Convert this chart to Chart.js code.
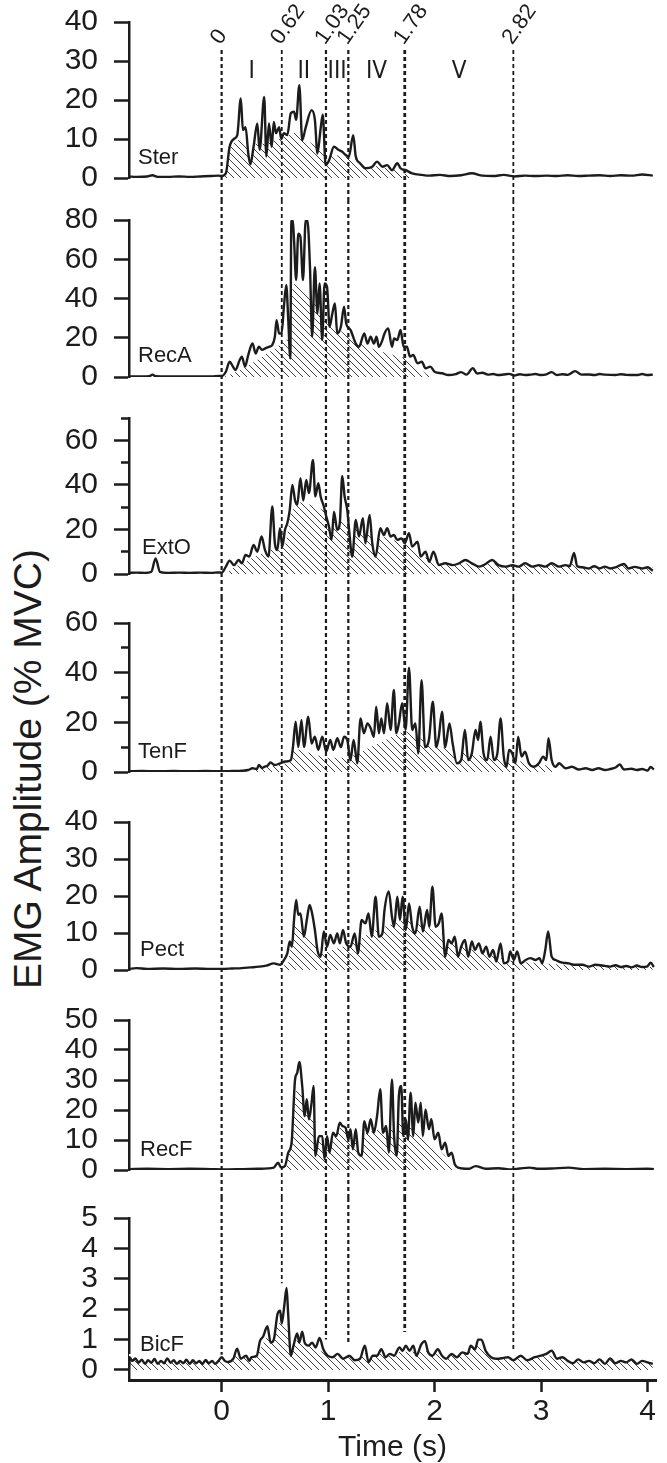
<!DOCTYPE html>
<html><head><meta charset="utf-8">
<script src="https://cdn.jsdelivr.net/npm/chart.js@4.4.0/dist/chart.umd.min.js"></script>
<style>
html,body{margin:0;padding:0;background:#fff;}
#wrap{position:relative;width:667px;height:1463px;overflow:hidden;background:#fff;}
canvas{position:absolute;left:0;}
#ytitle{position:absolute;left:28px;top:769px;transform:translate(-50%,-50%) rotate(-90deg);font:39px "Liberation Sans",Arial,Helvetica,sans-serif;color:#1c1c1c;white-space:nowrap;}
</style></head><body>
<div id="wrap"><div id="ytitle">EMG Amplitude (% MVC)</div></div>
<script>
// ---------------- DATA ----------------
const muscles = ['Ster','RecA','ExtO','TenF','Pect','RecF','BicF'];
const phaseLabels = ['0','0.62','1.03','1.25','1.78','2.82'];
const phasePos = [0, 0.565, 0.98, 1.19, 1.72, 2.74];
const phaseNames = ['I','II','III','IV','V'];
const bicfLineEnd = [0.5, 2.85, 1.0, 0.9, 1.25, 0.6];
const xTicks = [0,1,2,3,4];
const X_MIN = -0.87, X_MAX = 4.08;

const yMax = [40, 80, 70, 60, 40, 50, 5];
const yMin = [0, 0, 0, 0, 0, 0, -0.33];
const yTicks = [
  [0,10,20,30,40],[0,20,40,60,80],[0,10,20,30,40,50,60,70],[0,10,20,30,40,50,60],
  [0,10,20,30,40],[0,10,20,30,40,50],[0,1,2,3,4,5]];
const yLabeled = [
  [0,10,20,30,40],[0,20,40,60,80],[0,20,40,60],[0,20,40,60],
  [0,10,20,30,40],[0,10,20,30,40,50],[0,1,2,3,4,5]];

const sterData = [[-0.87,0.4],[-0.8,0.3],[-0.7,0.4],[-0.65,0.7],[-0.6,0.3],[-0.5,0.3],[-0.4,0.4],[-0.3,0.3],[-0.2,0.4],[-0.1,0.5],[-0.03,0.6],
[0,0.5],[0.04,1.2],[0.075,8],[0.115,10],[0.147,11],[0.18,20.4],[0.2,12.3],[0.225,13],[0.25,6.3],[0.27,3.5],[0.3,8],[0.335,14],[0.357,7.2],[0.4,20.8],[0.42,5.5],[0.445,14],[0.47,8],[0.49,14.4],[0.51,11.5],[0.54,13],[0.56,10],[0.585,11.5],[0.617,11],[0.65,16.6],[0.68,17],[0.70,14.9],[0.73,23.8],[0.757,9.7],[0.79,13],[0.845,17.4],[0.876,14.9],[0.9,6.3],[0.93,12.7],[0.95,16.2],[0.977,3.3],[1.01,4.6],[1.055,8],[1.1,7.2],[1.13,6.8],[1.165,5.9],[1.195,5.5],[1.236,11],[1.26,5.5],[1.3,3.8],[1.35,2.5],[1.415,2.9],[1.46,4.2],[1.51,2.9],[1.555,3.3],[1.6,2],[1.65,3.8],[1.68,2.5],[1.73,2],[1.79,1.2],[1.88,0.8],[1.95,0.6],[2.05,0.8],[2.15,0.5],[2.25,0.7],[2.35,1.2],[2.45,0.6],[2.55,0.5],[2.65,0.8],[2.75,0.4],[2.85,0.6],[2.95,0.5],[3.05,0.6],[3.15,0.5],[3.25,0.7],[3.35,0.5],[3.45,0.6],[3.55,0.7],[3.65,0.5],[3.75,0.7],[3.85,0.6],[3.95,0.9],[4.05,0.6]];
const sterEnv = [[0.02,0],[0.07,8],[0.15,10],[0.25,9],[0.4,9],[0.56,10.5],[0.7,12],[0.8,10],[0.97,6.5],[1.2,5.5],[1.4,3.5],[1.6,2.5],[1.75,1],[1.8,0]];

const recaData = [[-0.87,0.3],[-0.75,0.3],[-0.68,0.4],[-0.65,1.2],[-0.62,0.4],[-0.5,0.3],[-0.3,0.3],[-0.1,0.3],[-0.02,0.5],
[0,0.5],[0.04,2.7],[0.075,7.8],[0.106,5.3],[0.13,3.6],[0.17,8.7],[0.19,10.4],[0.22,5.3],[0.25,11.2],[0.29,17.1],[0.32,12],[0.35,15.4],[0.38,13.8],[0.41,14.6],[0.445,15.4],[0.475,16.3],[0.5,20.5],[0.516,29],[0.54,22.2],[0.563,22.2],[0.585,35.8],[0.607,46.9],[0.626,29],[0.645,9.5],[0.655,80],[0.668,80],[0.68,70],[0.70,49.4],[0.72,73],[0.74,71.5],[0.764,49.4],[0.79,80],[0.805,80],[0.83,56],[0.85,20.5],[0.876,56],[0.9,32.4],[0.92,47.7],[0.945,18.8],[0.967,47.7],[0.99,46],[1.014,25.6],[1.04,32.4],[1.064,37.5],[1.086,22.2],[1.12,25.6],[1.15,35.8],[1.17,27.3],[1.21,24],[1.26,17],[1.29,15.4],[1.34,22.2],[1.37,17],[1.4,20.5],[1.43,17],[1.455,20.5],[1.477,15.4],[1.51,18.8],[1.53,22.2],[1.565,24.8],[1.6,15.4],[1.62,19.7],[1.65,18.8],[1.68,24],[1.71,15.4],[1.74,15.4],[1.77,10.4],[1.8,11.2],[1.84,7],[1.88,7.8],[1.915,4.4],[1.96,5.3],[2.0,2.7],[2.07,1.9],[2.13,1],[2.2,1.5],[2.25,2.5],[2.3,1.2],[2.36,4.5],[2.4,1.8],[2.45,2.2],[2.5,1.2],[2.55,1.5],[2.6,1.0],[2.65,1.3],[2.7,1.6],[2.75,0.8],[2.8,1.4],[2.85,1.0],[2.9,1.2],[2.95,1.5],[3.0,1.0],[3.05,1.3],[3.1,2.5],[3.15,1.0],[3.2,1.4],[3.25,1.1],[3.32,3.0],[3.38,1.2],[3.45,1.3],[3.5,1.0],[3.55,1.5],[3.6,1.2],[3.7,1.0],[3.75,1.4],[3.8,1.1],[3.9,1.0],[3.95,1.5],[4.0,1.0],[4.05,1.2]];
const recaEnv = [[0.0,0],[0.1,2],[0.3,8],[0.5,15],[0.62,20],[0.66,47],[0.72,49],[0.8,44],[0.98,30],[1.19,21],[1.45,14],[1.72,10],[1.85,5],[1.95,1],[2.0,0]];

const extoData = [[-0.87,0.5],[-0.8,0.6],[-0.72,0.5],[-0.66,1.0],[-0.62,7],[-0.58,1.0],[-0.5,0.5],[-0.4,0.6],[-0.3,0.5],[-0.2,0.6],[-0.1,0.5],[-0.03,0.7],[0,0.6],[0.04,3.3],[0.075,6],[0.116,4],[0.16,6.3],[0.19,4.8],[0.225,8.5],[0.26,7.8],[0.3,13],[0.335,10],[0.375,16.8],[0.407,10.8],[0.44,7.8],[0.476,30.3],[0.5,13.8],[0.523,10.8],[0.548,20.5],[0.57,12.3],[0.595,19.8],[0.617,22.8],[0.64,28.8],[0.664,40],[0.69,33],[0.71,31],[0.74,43],[0.767,33],[0.795,42.2],[0.82,36.3],[0.858,51.2],[0.88,34.8],[0.908,40.7],[0.93,34.8],[0.96,30.3],[0.983,25.8],[1.008,21.3],[1.033,15.3],[1.055,28],[1.086,19.8],[1.11,22.8],[1.133,44],[1.155,34.8],[1.18,28.8],[1.2,18.3],[1.227,7.8],[1.26,24.3],[1.29,16.8],[1.327,25],[1.35,13.8],[1.39,26.5],[1.415,13.8],[1.446,7.8],[1.49,20.5],[1.524,17.5],[1.555,20.5],[1.587,16.8],[1.618,17.5],[1.65,15.3],[1.69,16],[1.72,13.8],[1.76,18.3],[1.79,12.3],[1.84,14.5],[1.87,7.8],[1.915,10],[1.95,5.5],[1.99,10],[2.04,4],[2.1,4.8],[2.17,4],[2.23,4.8],[2.29,6.3],[2.35,4.8],[2.42,3.3],[2.48,4.5],[2.54,6.3],[2.6,4],[2.67,3.3],[2.73,4],[2.79,3.3],[2.85,4.8],[2.92,3.3],[2.98,4],[3.04,3.3],[3.1,4.8],[3.17,3.3],[3.23,4],[3.27,3.5],[3.31,9.5],[3.34,3.5],[3.39,3],[3.45,2.5],[3.5,3.5],[3.55,2.5],[3.6,3.3],[3.65,2.5],[3.7,3.0],[3.78,4.5],[3.82,2.5],[3.88,3.2],[3.95,2.5],[4.0,3.0],[4.05,1.5]];
const extoEnv = [[0.02,0],[0.1,3],[0.35,9],[0.6,14],[0.64,28],[0.75,33],[0.96,29],[1.19,22],[1.72,14],[1.9,8],[2.05,5],[4.05,5]];

const tenfData = [[-0.87,0.3],[-0.75,0.4],[-0.6,0.3],[-0.45,0.4],[-0.3,0.3],[-0.15,0.4],[0,0.3],[0.1,0.4],[0.19,0.5],[0.25,0.8],[0.29,1.5],[0.33,1.2],[0.35,2.8],[0.38,1.6],[0.4,2.1],[0.43,2.5],[0.46,3.8],[0.5,2.8],[0.55,3.5],[0.6,4.2],[0.65,4.8],[0.67,10],[0.695,20.3],[0.72,10],[0.75,21],[0.773,10],[0.814,22.3],[0.845,11.5],[0.876,14.2],[0.908,8.9],[0.945,14.2],[0.983,8.2],[1.02,12.9],[1.05,8.9],[1.086,13.6],[1.12,10],[1.15,14.2],[1.18,12.9],[1.21,4.8],[1.24,12.9],[1.274,3.5],[1.305,21.6],[1.336,15.6],[1.37,19.6],[1.4,17.6],[1.43,14.2],[1.452,26.3],[1.477,15.6],[1.5,21.6],[1.525,15.6],[1.555,27.7],[1.587,16.9],[1.618,33],[1.64,15.6],[1.665,19.6],[1.696,27.7],[1.728,16.9],[1.76,42],[1.79,16.9],[1.82,19.6],[1.847,7.5],[1.878,37],[1.91,10],[1.947,12.9],[1.984,28.3],[2.016,10],[2.04,14.2],[2.07,24.3],[2.1,10],[2.14,19.6],[2.17,11.5],[2.21,3.5],[2.25,4.8],[2.285,16.9],[2.316,4.8],[2.35,7.5],[2.385,16.9],[2.41,12.9],[2.43,20.3],[2.46,7.5],[2.495,4.8],[2.526,14.2],[2.557,4.8],[2.59,7.5],[2.62,21.6],[2.65,6.2],[2.676,2.1],[2.7,8.9],[2.73,7.5],[2.76,3.5],[2.785,14.2],[2.817,6.2],[2.85,8.2],[2.886,3.5],[2.93,2.1],[2.98,3.5],[3.02,6.2],[3.05,4.8],[3.07,13.6],[3.1,4.8],[3.136,2.1],[3.17,3.5],[3.23,1.5],[3.29,2.1],[3.355,1],[3.42,1.5],[3.48,0.8],[3.54,1.5],[3.6,0.8],[3.65,1.2],[3.7,1.8],[3.74,3.0],[3.78,1.0],[3.85,1.3],[3.9,0.8],[3.95,1.2],[4.0,0.6],[4.03,2.0],[4.06,1.0]];
const tenfEnv = [[0.25,0],[0.4,2],[0.62,4],[0.67,10],[0.98,6],[1.19,6],[1.72,17],[2.0,11],[2.4,7],[2.74,5],[3.05,3],[3.15,0]];

const pectData = [[-0.87,0.3],[-0.8,0.5],[-0.7,0.3],[-0.55,0.4],[-0.4,0.3],[-0.25,0.4],[-0.1,0.3],[0,0.3],[0.1,0.4],[0.19,0.5],[0.27,0.7],[0.35,0.9],[0.42,1.2],[0.49,1.8],[0.55,1.4],[0.585,2.7],[0.617,4.5],[0.64,7.7],[0.66,6.3],[0.68,13.5],[0.70,18.9],[0.72,14.9],[0.74,15.3],[0.773,9],[0.8,13.5],[0.826,17.6],[0.85,15.3],[0.876,10.8],[0.9,5.4],[0.93,3.6],[0.96,10.4],[0.99,6.3],[1.02,9.5],[1.055,7.2],[1.086,9.9],[1.11,7.2],[1.14,10.8],[1.17,7.2],[1.21,6.3],[1.25,9.9],[1.28,4.5],[1.315,13.5],[1.35,12.6],[1.38,15.3],[1.41,9],[1.446,19.8],[1.477,9],[1.51,9.9],[1.53,16.2],[1.57,21.2],[1.6,14.4],[1.62,11.7],[1.65,19.8],[1.675,13.5],[1.7,19.8],[1.73,10.8],[1.76,18],[1.79,11.7],[1.82,9.9],[1.86,17.1],[1.89,10.4],[1.93,16.2],[1.95,11.7],[1.98,22.5],[2.01,11.7],[2.04,12.6],[2.066,15.3],[2.1,3.6],[2.13,8.1],[2.16,7.2],[2.19,9],[2.22,3.6],[2.25,6.3],[2.285,8.1],[2.316,3.6],[2.35,7.7],[2.38,5.4],[2.416,7.2],[2.45,4.5],[2.485,6.3],[2.516,3.6],[2.55,5.4],[2.58,2.3],[2.62,7.2],[2.65,1.8],[2.69,2.3],[2.71,5],[2.745,2.7],[2.776,5],[2.81,1.8],[2.855,2.7],[2.9,3.2],[2.95,2.7],[2.986,3.2],[3.01,1.8],[3.04,5.4],[3.067,10.4],[3.1,3.6],[3.136,2.7],[3.2,2],[3.26,1.8],[3.32,1.4],[3.39,1.4],[3.45,0.9],[3.51,1.4],[3.6,1.1],[3.65,0.9],[3.7,1.3],[3.75,0.8],[3.8,1.1],[3.85,0.7],[3.9,1.2],[3.95,0.8],[4.0,1.0],[4.03,2.0],[4.06,0.8]];
const pectEnv = [[0.5,0],[0.62,2],[0.66,13],[0.8,10],[0.98,5],[1.19,7],[1.45,11],[1.72,14],[2.0,11],[2.4,5],[2.75,2.5],[3.3,1.5],[4.05,1]];

const recfData = [[-0.87,0.3],[-0.7,0.4],[-0.5,0.3],[-0.3,0.4],[-0.1,0.3],[0,0.2],[0.2,0.3],[0.35,0.4],[0.49,0.8],[0.53,2.4],[0.56,0.8],[0.595,1.3],[0.626,5.8],[0.657,9.1],[0.69,30.2],[0.71,32.4],[0.73,36],[0.757,28],[0.78,18],[0.8,23.6],[0.82,16.9],[0.845,22.4],[0.864,28],[0.88,4.7],[0.914,11.3],[0.945,11.3],[0.967,3.6],[0.99,11.3],[1.014,5.8],[1.045,12.4],[1.077,11.3],[1.11,15.8],[1.133,14.7],[1.164,14.1],[1.19,10.2],[1.21,13.6],[1.233,6.9],[1.26,13.6],[1.283,5.8],[1.315,4.7],[1.34,16.3],[1.37,12.4],[1.4,16.9],[1.43,12.4],[1.46,18],[1.49,26.9],[1.515,12.4],[1.546,14.7],[1.57,5.8],[1.6,30.2],[1.62,11.3],[1.645,4.7],[1.665,24.7],[1.687,28],[1.706,11.3],[1.73,16.9],[1.75,10.2],[1.775,25.8],[1.8,11.3],[1.82,22.4],[1.847,15.8],[1.87,22.4],[1.89,11.3],[1.915,20.2],[1.947,13.6],[1.97,16.9],[2.0,10.2],[2.035,12.4],[2.066,6.9],[2.1,9.1],[2.13,4.7],[2.16,5.8],[2.19,1.9],[2.22,0.8],[2.32,0.4],[2.385,1.3],[2.48,0.4],[2.6,0.6],[2.7,0.2],[2.8,0.5],[2.89,0.8],[2.98,0.4],[3.1,0.5],[3.26,0.8],[3.4,0.3],[3.6,0.4],[3.8,0.3],[4.0,0.4],[4.06,0.3]];
const recfEnv = [[0.6,0],[0.7,28],[0.78,24],[0.98,7],[1.12,15],[1.3,12],[1.5,14],[1.72,16],[1.9,11],[2.1,5],[2.2,0]];

const bicfData = [[-0.87,0.12],[-0.865,0.42],[-0.84,0.3],[-0.81,0.38],[-0.78,0.24],[-0.75,0.34],[-0.72,0.2],[-0.69,0.32],[-0.66,0.24],[-0.63,0.36],[-0.6,0.2],[-0.57,0.3],[-0.54,0.22],[-0.51,0.38],[-0.48,0.24],[-0.45,0.32],[-0.42,0.2],[-0.39,0.3],[-0.36,0.22],[-0.33,0.34],[-0.3,0.2],[-0.27,0.32],[-0.24,0.22],[-0.21,0.3],[-0.18,0.2],[-0.15,0.33],[-0.12,0.22],[-0.09,0.3],[-0.06,0.2],[-0.03,0.3],[0,0.42],[0.03,0.3],[0.06,0.26],[0.11,0.37],[0.145,0.7],[0.18,0.37],[0.23,0.47],[0.26,0.3],[0.28,0.42],[0.33,0.47],[0.36,0.95],[0.39,1.1],[0.43,1.44],[0.46,0.9],[0.49,1.0],[0.525,1.84],[0.55,1.95],[0.565,1.53],[0.59,2.16],[0.61,2.7],[0.625,1.84],[0.65,0.47],[0.675,0.8],[0.71,1.2],[0.73,0.9],[0.757,1.26],[0.78,0.9],[0.816,0.8],[0.85,0.9],[0.883,0.74],[0.92,1.05],[0.955,0.68],[0.995,0.47],[1.04,0.42],[1.09,0.53],[1.14,0.37],[1.2,0.47],[1.25,0.32],[1.3,0.37],[1.345,0.8],[1.38,0.26],[1.42,0.47],[1.46,0.47],[1.5,0.68],[1.54,0.42],[1.58,0.53],[1.62,0.47],[1.67,0.74],[1.7,0.63],[1.73,0.8],[1.765,0.63],[1.8,0.8],[1.83,0.47],[1.875,0.84],[1.91,0.95],[1.94,0.58],[1.98,0.47],[2.03,0.68],[2.07,0.47],[2.11,0.37],[2.16,0.53],[2.21,0.42],[2.26,0.58],[2.31,0.53],[2.34,0.8],[2.38,0.68],[2.41,1.0],[2.44,1.0],[2.48,0.63],[2.53,0.42],[2.58,0.37],[2.64,0.39],[2.69,0.42],[2.74,0.32],[2.81,0.47],[2.87,0.32],[2.94,0.42],[3.0,0.47],[3.05,0.53],[3.1,0.63],[3.15,0.37],[3.2,0.42],[3.25,0.3],[3.3,0.22],[3.35,0.35],[3.4,0.25],[3.45,0.3],[3.5,0.22],[3.55,0.35],[3.6,0.2],[3.65,0.38],[3.7,0.22],[3.75,0.3],[3.8,0.25],[3.85,0.35],[3.9,0.2],[3.95,0.3],[4.0,0.25],[4.05,0.2]];
const bicfEnv = [[-0.87,0.5],[0.33,0.5],[0.4,1.0],[0.55,1.6],[0.63,1.5],[0.7,1.0],[1.0,0.55],[1.5,0.6],[2.0,0.65],[2.4,0.9],[2.5,0.5],[4.05,0.5]];

const traces = [sterData, recaData, extoData, tenfData, pectData, recfData, bicfData];
const envelopes = [sterEnv, recaEnv, extoEnv, tenfEnv, pectEnv, recfEnv, bicfEnv];

// ---------------- LAYOUT / STYLE ----------------
const layout = [
  {top:0, h:200, pt:22, pb:22}, {top:200, h:198, pt:20, pb:21}, {top:398, h:200, pt:20, pb:24},
  {top:598, h:202, pt:25, pb:28}, {top:800, h:198, pt:22, pb:28}, {top:998, h:200, pt:22, pb:28},
  {top:1198, h:265, pt:20, pb:0}];
const nameDy = [20, 21, 26, 20, 20, 20, 25];
const nameX = [138, 138, 142, 138, 140, 140, 140];
const phaseLineWidth = [2.2, 1.8, 2.2, 2.2, 2.8, 1.8];
const FONT = '"Liberation Sans", Arial, Helvetica, sans-serif';
const INK = '#1c1c1c';

const wrap = document.getElementById('wrap');
const hc = document.createElement('canvas'); hc.width = 7; hc.height = 7;
const hg = hc.getContext('2d');
hg.strokeStyle = '#2a2a2a'; hg.lineWidth = 0.9;
hg.beginPath(); hg.moveTo(-1,-1); hg.lineTo(8,8); hg.moveTo(-1,6); hg.lineTo(1,8); hg.moveTo(6,-1); hg.lineTo(8,1); hg.stroke();
const hatch = hg.createPattern(hc, 'repeat');

const overlay = {
  id: 'overlay',
  afterDatasetsDraw(chart, args, o) {
    const ctx = chart.ctx, xs = chart.scales.x, ys = chart.scales.y, p = o.panel;
    const last = p === muscles.length - 1;
    ctx.save();
    ctx.strokeStyle = INK; ctx.setLineDash([4, 3]);
    phasePos.forEach((v, i) => {
      const x = xs.getPixelForValue(v);
      const y0 = p === 0 ? 50 : 0;
      const y1 = last ? ys.getPixelForValue(bicfLineEnd[i]) : chart.height;
      ctx.lineWidth = phaseLineWidth[i];
      ctx.beginPath(); ctx.moveTo(x, y0); ctx.lineTo(x, y1); ctx.stroke();
    });
    ctx.setLineDash([]);
    ctx.fillStyle = INK;
    ctx.font = '22px ' + FONT; ctx.textAlign = 'left'; ctx.textBaseline = 'middle';
    ctx.fillText(muscles[p], nameX[p], ys.getPixelForValue(0) - nameDy[p]);
    if (p === 0) {
      ctx.font = '22px ' + FONT;
      phasePos.forEach((v, i) => {
        const x = xs.getPixelForValue(v);
        ctx.save(); ctx.translate(x - 6, 42); ctx.rotate(-55 * Math.PI / 180);
        ctx.fillText(phaseLabels[i], 0, 0); ctx.restore();
      });
      ctx.font = '24px "Liberation Sans Narrow", "DejaVu Sans Condensed", ' + FONT;
      ctx.textAlign = 'center';
      phaseNames.forEach((n, i) => {
        const x = (xs.getPixelForValue(phasePos[i]) + xs.getPixelForValue(phasePos[i + 1])) / 2;
        ctx.fillText(n, x, 72);
      });
    }
    ctx.restore();
  }
};

const toXY = a => a.map(d => ({x: d[0], y: d[1]}));

muscles.forEach((m, i) => {
  const L = layout[i];
  const last = i === muscles.length - 1;
  const cv = document.createElement('canvas');
  cv.width = 667; cv.height = L.h; cv.style.top = L.top + 'px';
  wrap.appendChild(cv);
  new Chart(cv, {
    type: 'line',
    data: { datasets: [
      { data: toXY(traces[i]), borderColor: INK, borderWidth: 2.4, pointRadius: 0,
        cubicInterpolationMode: 'monotone',
        fill: { target: 1, above: 'rgba(0,0,0,0)', below: '#ffffff' } },
      { data: toXY(envelopes[i]), borderColor: '#ffffff', borderWidth: 1.5, pointRadius: 0,
        tension: 0, fill: 'origin', backgroundColor: hatch }
    ]},
    options: {
      responsive: false, animation: false, events: [],
      layout: { autoPadding: false, padding: { top: L.pt, bottom: L.pb, left: 0, right: 11 } },
      plugins: { legend: { display: false }, tooltip: { enabled: false }, overlay: { panel: i } },
      scales: {
        x: {
          type: 'linear', min: X_MIN, max: X_MAX, display: last,
          afterBuildTicks: s => { s.ticks = xTicks.map(v => ({value: v})); },
          afterFit: s => { if (last) s.height = 83; s.paddingLeft = 0; s.paddingRight = 0; },
          border: { display: true, width: 3, color: INK },
          grid: { drawOnChartArea: false, drawTicks: true, tickLength: 12, tickWidth: 2.5, tickColor: INK },
          ticks: { font: { size: 30, family: FONT }, color: INK, padding: 2, maxRotation: 0, autoSkip: false },
          title: { display: true, text: 'Time (s)', font: { size: 30, family: FONT, lineHeight: 1.0 }, color: INK, padding: 0 }
        },
        y: {
          type: 'linear', min: yMin[i], max: yMax[i],
          afterBuildTicks: s => { s.ticks = yTicks[i].map(v => ({value: v})); },
          afterFit: s => { s.width = 129; s.paddingTop = 0; s.paddingBottom = 0; },
          border: { display: true, width: 2.5, color: INK },
          grid: { drawOnChartArea: false, drawTicks: true, tickLength: 15, tickWidth: 2.5, tickColor: INK,
            tickBorderDash: c => (c.tick && yLabeled[i].indexOf(c.tick.value) < 0) ? [0, 7, 8, 100] : [] },
          ticks: { callback: v => yLabeled[i].indexOf(v) >= 0 ? String(v) : '',
            font: { size: 30, family: FONT }, color: INK, padding: 16, autoSkip: false }
        }
      }
    },
    plugins: [overlay]
  });
});
</script>
</body></html>
